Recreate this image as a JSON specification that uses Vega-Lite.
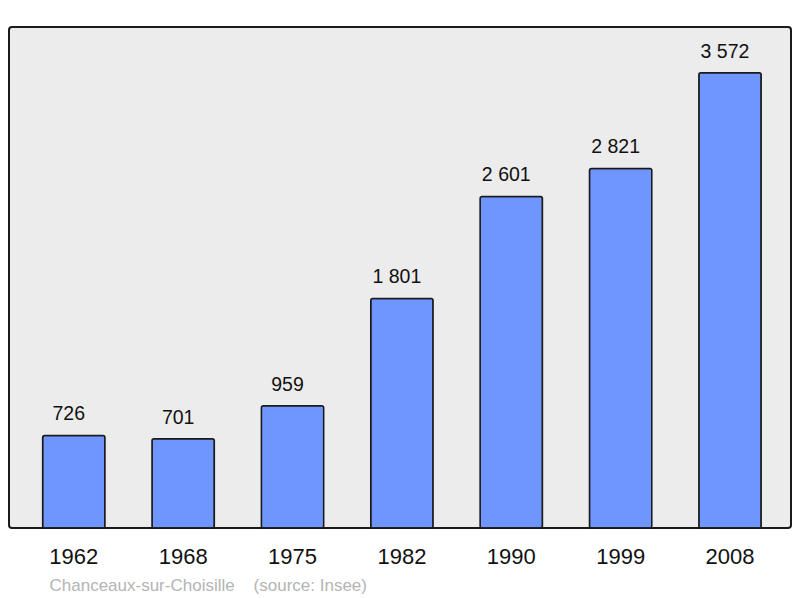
{
  "$schema": "https://vega.github.io/schema/vega-lite/v6.json",
  "width": 782,
  "height": 501,
  "autosize": {"type": "none"},
  "padding": {"left": 9, "top": 27, "right": 9, "bottom": 70},
  "background": "white",
  "config": {
    "locale": {"number": {"decimal": ",", "thousands": " ", "grouping": [3], "currency": ["", " €"]}},
    "view": {"fill": "#ececec", "stroke": "#1a1a1a", "strokeWidth": 2, "cornerRadius": 3},
    "font": "Liberation Sans"
  },
  "data": {"values": [
    {"year": "1962", "pop": 726},
    {"year": "1968", "pop": 701},
    {"year": "1975", "pop": 959},
    {"year": "1982", "pop": 1801},
    {"year": "1990", "pop": 2601},
    {"year": "1999", "pop": 2821},
    {"year": "2008", "pop": 3572}
  ]},
  "encoding": {
    "x": {
      "field": "year", "type": "nominal", "sort": null,
      "scale": {"paddingInner": 0.43, "paddingOuter": 0.29, "align": 0.53},
      "axis": {
        "title": "Chanceaux-sur-Choisille\u00a0\u00a0\u00a0\u00a0(source: Insee)",
        "titleFont": "Liberation Sans", "titleFontSize": 17, "titleFontWeight": "normal",
        "titleColor": "#b4b4b4", "titleAlign": "left", "titleAnchor": "start",
        "titleX": 40, "titleY": 57, "titleBaseline": "middle",
        "labelAngle": 0, "labelFontSize": 22, "labelColor": "#111111",
        "labelPadding": 18, "ticks": false, "domain": false, "grid": false
      }
    },
    "y": {
      "field": "pop", "type": "quantitative",
      "scale": {"domain": [0, 3930], "nice": false},
      "axis": null
    }
  },
  "layer": [
    {
      "mark": {"type": "bar", "color": "#6f96ff", "stroke": "#1a1a1a", "strokeWidth": 1.5, "cornerRadius": 2}
    },
    {
      "mark": {"type": "text", "fontSize": 19.5, "color": "#111111", "baseline": "bottom", "dy": -11, "dx": -5},
      "encoding": {"text": {"field": "pop", "type": "quantitative", "format": ",d"}}
    }
  ]
}
